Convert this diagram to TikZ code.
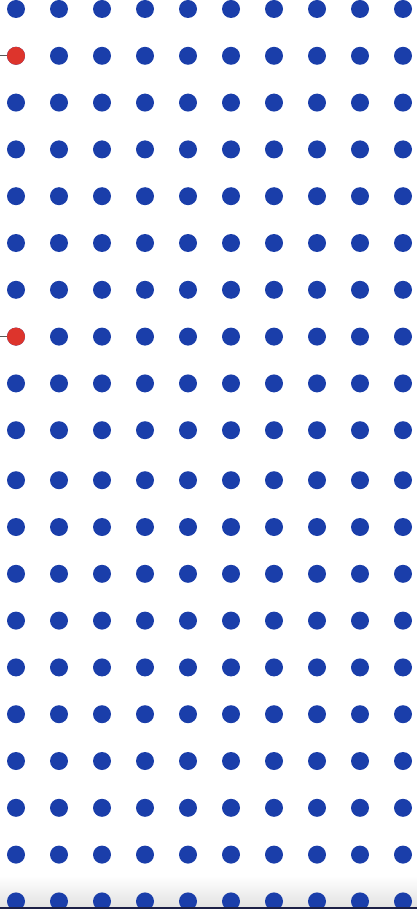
\documentclass[tikz,border=0pt]{standalone}
\usepackage{xcolor}
\usepackage{tikz}
\usetikzlibrary{positioning, backgrounds}

\definecolor{dotblue}{RGB}{26,62,170}
\definecolor{dotred}{RGB}{221,52,44}
\definecolor{edgenavy}{RGB}{28,32,70}

\begin{document}
\begin{tikzpicture}[
      x=1pt, y=-1pt,
      dot/.style = {
        circle, inner sep=0pt,
        minimum size=18pt,
        fill=dotblue, draw=none
      },
      dotR/.style = {dot, fill=dotred},
      lead/.style = {line width=1.1pt, gray!70!black},
    ]
    \useasboundingbox (0,0) rectangle (417,909);
    % soft shadow along the bottom edge
    \shade[top color=white, bottom color=gray!22] (0,876) rectangle (417,906);
    % grid of dots (lower half sits a little lower)
    \foreach \c in {1,...,10} {
      \foreach \r in {1,...,20} {
        \pgfmathsetmacro{\yy}{9+46.8*(\r-1)+(\r>10)*3.2}
        \node[dot] (d-\c-\r) at ({16+43*(\c-1)}, \yy) {};
      }
    }
    \node[dotR] (d-1-2) at (16, 55.8) {};
    \node[dotR] (d-1-8) at (16, 336.6) {};
    \coordinate (in-a) at (0, 55.8);
    \coordinate (in-b) at (0, 336.6);
    \draw[lead] (in-a) -- (d-1-2.west);
    \draw[lead] (in-b) -- (d-1-8.west);
    % bottom edge
    \fill[edgenavy] (0,906.5) rectangle (417,909);
    \end{tikzpicture}
\end{document}
